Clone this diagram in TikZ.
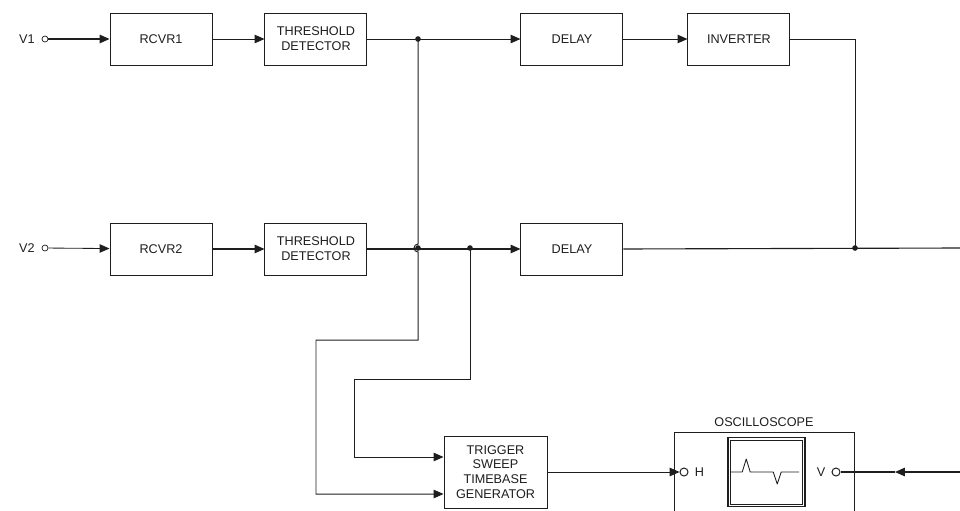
\documentclass[tikz,border=0pt]{standalone}
\usepackage{fontspec}
\setsansfont{Liberation Sans}
\usetikzlibrary{arrows.meta,calc,positioning}
\definecolor{scink}{RGB}{30,30,30}

\begin{document}
\begin{tikzpicture}[
  node distance=1.3cm and 1.3cm,
  every node/.style={font=\sffamily\fontsize{9}{10.5}\selectfont, text=scink},
  block/.style={draw=scink, line width=0.7pt, fill=white, align=center,
    minimum width=2.55cm, minimum height=1.3cm, inner sep=2pt},
  trigbox/.style={block, minimum width=2.575cm, minimum height=1.8cm},
  scopebox/.style={draw=scink, line width=0.7pt, minimum width=4.5cm,
    minimum height=2.4cm, anchor=north},
  screen/.style={draw=scink, line width=1.1pt,
    minimum width=1.925cm, minimum height=1.725cm, inner sep=0pt},
  port/.style={circle, draw=scink, line width=0.5pt, fill=white,
    minimum size=0.15cm, inner sep=0pt},
  bigport/.style={port, line width=0.7pt, minimum size=0.2cm},
  dot/.style={circle, fill=scink, minimum size=0.14cm, inner sep=0pt},
  wire/.style={draw=scink, line width=0.7pt},
  arr/.style={wire, -{Triangle[length=7pt, width=6pt]}},
  trace/.style={draw=scink, line width=0.6pt, line join=round}
]
  \clip (0,0) rectangle (24,-12.75);

  % receiver chains
  \node[block] (rcvra) at (4.025,-0.975) {RCVR1};
  \node[block, right=of rcvra] (thra) {THRESHOLD\\DETECTOR};
  \node[block, right=3.825cm of thra] (delaya) {DELAY};
  \node[block, right=1.6cm of delaya] (inv) {INVERTER};

  \node[block, below=3.925cm of rcvra] (rcvrb) {RCVR2};
  \node[block, right=of rcvrb] (thrb) {THRESHOLD\\DETECTOR};
  \node[block, right=3.825cm of thrb] (delayb) {DELAY};

  \node[port] (ina) at (1.125,-0.975) {};
  \node[left=0.05cm of ina] (va) {V1};
  \node[port] (inb) at (1.125,-6.2) {};
  \node[left=0.05cm of inb] (vb) {V2};

  \node[dot] (ja) at (10.45,-0.975) {};
  \node[dot] (jhop) at (10.45,-6.2) {};
  \node[dot] (jb) at (11.75,-6.2) {};
  \node[dot] (jc) at (21.375,-6.2) {};
  \coordinate (outb) at (24,-6.2);

  \draw[arr, line width=1.1pt] (ina) -- (rcvra);
  \draw[arr] (rcvra) -- (thra);
  \draw[arr] (thra) -- (delaya);
  \draw[arr] (delaya) -- (inv);
  \draw[wire] (inv.east) -| (jc.center);

  \draw[arr, line width=0.6pt] (inb) -- (rcvrb);
  \draw[arr, line width=0.9pt] (rcvrb) -- (thrb);
  \draw[arr, line width=0.9pt] (thrb) -- (delayb);
  \draw[wire, line width=0.8pt] (delayb.east) -- (outb);

  % trigger and scope
  \node[trigbox] (trig) at (12.3875,-11.8) {TRIGGER\\SWEEP\\TIMEBASE\\GENERATOR};

  \draw[arr] (ja.center) -- ([yshift=0.1cm]jhop.center)
    arc[start angle=90, end angle=270, radius=0.1cm] -- ++(0,-2.2)
    -| (7.9,-12.35) -- ([yshift=-0.55cm]trig.west);
  \draw[arr] (jb.center) -- ++(0,-3.275)
    -| (8.85,-11.425) -- ([yshift=0.375cm]trig.west);

  \node[scopebox] (scope) at (19.1,-10.8) {};
  \node[above=0.12cm of scope.north, inner sep=0pt] (scopelab) {OSCILLOSCOPE};
  \node[screen] (scr) at (19.1625,-11.8) {};
  \draw[draw=scink, line width=0.45pt] ([shift={(0.08,0.08)}]scr.south west)
    rectangle ([shift={(-0.08,-0.08)}]scr.north east);
  \draw[trace] ([xshift=0.1cm]scr.west) -- ++(0.275,0) -- ++(0.1,0.325)
    -- ++(0.1,-0.325) -- ++(0.575,0) -- ++(0.1,-0.3) -- ++(0.1,0.3) -- ++(0.45,0);

  \node[bigport] (hport) at (17.1,-11.8) {};
  \node[right=0.15cm of hport, inner sep=0pt] (hlab) {H};
  \node[bigport] (vport) at (20.9,-11.8) {};
  \node[left=0.15cm of vport, inner sep=0pt] (vlab) {V};
  \coordinate (vin) at (24,-11.8);
  \coordinate (vmid) at (22.375,-11.8);

  \draw[arr] (trig.east) -- (hport.west);
  \draw[arr, line width=0.9pt] (vin) -- (vmid);
  \draw[wire, line width=0.9pt] (vmid) -- (vport.east);
\end{tikzpicture}
\end{document}
